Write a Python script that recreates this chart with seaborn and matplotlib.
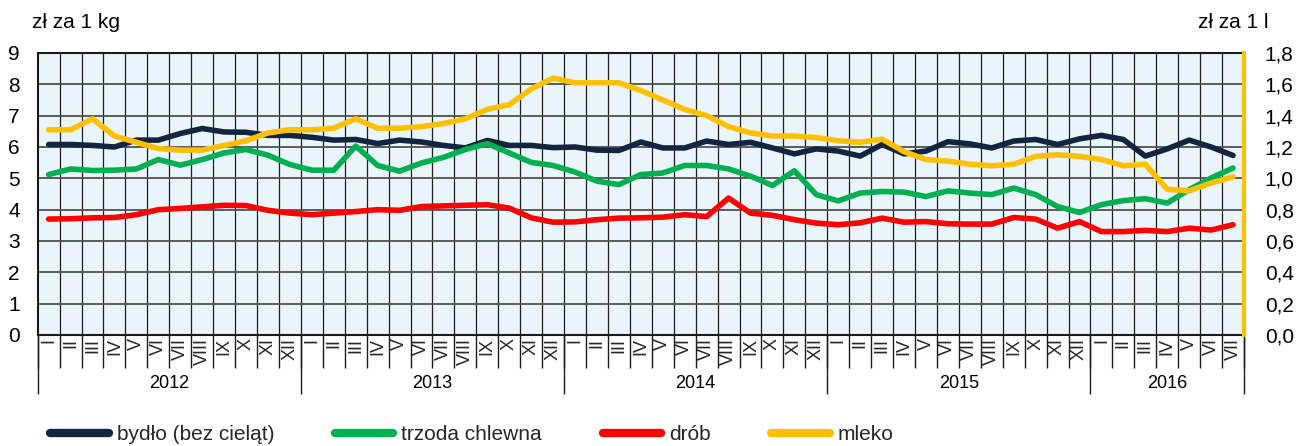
import numpy as np
import pandas as pd
import matplotlib
matplotlib.use("Agg")
import matplotlib.pyplot as plt
import seaborn as sns
from matplotlib.ticker import FuncFormatter

# ---------------- data ----------------
years = ["2012", "2013", "2014", "2015", "2016"]
months_per_year = [12, 12, 12, 12, 7]
roman = ["I", "II", "III", "IV", "V", "VI", "VII", "VIII", "IX", "X", "XI", "XII"]

# zł za 1 kg
bydlo = [6.08, 6.08, 6.05, 6.00, 6.22, 6.22, 6.43, 6.59, 6.48, 6.47, 6.37, 6.37, 6.31, 6.22,
         6.24, 6.11, 6.22, 6.16, 6.05, 5.97, 6.21, 6.05, 6.05, 5.98, 6.00, 5.90, 5.89, 6.16,
         5.97, 5.97, 6.19, 6.08, 6.15, 5.97, 5.78, 5.94, 5.87, 5.71, 6.08, 5.78, 5.87, 6.17,
         6.10, 5.97, 6.19, 6.24, 6.08, 6.26, 6.37, 6.24, 5.71, 5.94, 6.22, 6.00, 5.73]
trzoda = [5.12, 5.30, 5.25, 5.26, 5.30, 5.60, 5.42, 5.60, 5.81, 5.92, 5.74, 5.44, 5.26, 5.26,
          6.03, 5.41, 5.23, 5.49, 5.67, 5.92, 6.11, 5.81, 5.51, 5.41, 5.20, 4.91, 4.80, 5.12,
          5.17, 5.41, 5.41, 5.30, 5.07, 4.77, 5.24, 4.48, 4.28, 4.53, 4.58, 4.56, 4.42, 4.60,
          4.53, 4.48, 4.69, 4.48, 4.10, 3.91, 4.16, 4.29, 4.35, 4.21, 4.64, 5.01, 5.33]
drob = [3.70, 3.71, 3.74, 3.75, 3.84, 4.00, 4.04, 4.09, 4.14, 4.13, 3.98, 3.89, 3.84, 3.89,
        3.94, 4.00, 3.98, 4.10, 4.12, 4.14, 4.16, 4.05, 3.74, 3.60, 3.61, 3.68, 3.73, 3.74,
        3.76, 3.84, 3.78, 4.37, 3.89, 3.82, 3.68, 3.57, 3.52, 3.58, 3.73, 3.60, 3.62, 3.55,
        3.54, 3.54, 3.75, 3.70, 3.41, 3.62, 3.30, 3.30, 3.34, 3.30, 3.41, 3.35, 3.52]
# zł za 1 l
mleko = [1.31, 1.31, 1.38, 1.27, 1.23, 1.19, 1.18, 1.18, 1.21, 1.24, 1.29, 1.31, 1.31, 1.32,
         1.38, 1.32, 1.32, 1.33, 1.35, 1.38, 1.44, 1.47, 1.57, 1.64, 1.61, 1.61, 1.61, 1.56,
         1.50, 1.44, 1.40, 1.33, 1.29, 1.27, 1.27, 1.26, 1.24, 1.23, 1.25, 1.17, 1.12, 1.11,
         1.09, 1.08, 1.09, 1.14, 1.15, 1.14, 1.12, 1.08, 1.09, 0.93, 0.92, 0.97, 1.01]

series_names = ["bydło (bez cieląt)", "trzoda chlewna", "drób", "mleko"]
colors = ["#13243F", "#00B050", "#FF0000", "#FFC000"]

month_labels = [roman[i] for n in months_per_year for i in range(n)]
n = len(bydlo)
df = pd.DataFrame({"m": np.arange(n), "bydlo": bydlo, "trzoda": trzoda,
                   "drob": drob, "mleko": mleko})

# ---------------- style ----------------
sns.set_theme(style="white")
plt.rcParams["font.family"] = ["Liberation Sans", "DejaVu Sans"]

W, H = 1296, 446
fig = plt.figure(figsize=(W / 100, H / 100), dpi=100)
L, R, T, B = 37.7, 1244, 53, 335
ax = fig.add_axes([L / W, 1 - B / H, (R - L) / W, (B - T) / H])
ax.set_facecolor("#E9F4FB")
ax2 = ax.twinx()

lw = 4.0
sns.lineplot(data=df, x="m", y="bydlo", ax=ax, color=colors[0], linewidth=lw,
             label=series_names[0], solid_joinstyle="round")
sns.lineplot(data=df, x="m", y="trzoda", ax=ax, color=colors[1], linewidth=lw,
             label=series_names[1], solid_joinstyle="round")
sns.lineplot(data=df, x="m", y="drob", ax=ax, color=colors[2], linewidth=lw,
             label=series_names[2], solid_joinstyle="round")
sns.lineplot(data=df, x="m", y="mleko", ax=ax2, color=colors[3], linewidth=lw,
             label=series_names[3], solid_joinstyle="round")

h1, l1 = ax.get_legend_handles_labels()
h2, l2 = ax2.get_legend_handles_labels()
for a in (ax, ax2):
    if a.get_legend() is not None:
        a.get_legend().remove()

ax.set_xlim(-0.5, n - 0.5)
ax.set_ylim(0, 9)
ax2.set_ylim(0, 1.8)
ax.set_xlabel("")
ax.set_ylabel("")
ax2.set_ylabel("")

ax.set_yticks(range(10))
ax2.set_yticks(np.round(np.arange(0, 1.81, 0.2), 1))
ax2.yaxis.set_major_formatter(FuncFormatter(lambda v, p: f"{v:.1f}".replace(".", ",")))
ax.tick_params(axis="y", length=0, pad=13, labelsize=15, colors="black")
ax2.tick_params(axis="y", length=0, pad=15, labelsize=15, colors="black")

ax.set_xticks(np.arange(n))
ax.set_xticklabels(month_labels, rotation=90, fontsize=13, va="top")
ax.tick_params(axis="x", which="major", length=0, pad=2)
ax.set_xticks(np.arange(0.5, n - 1, 1), minor=True)
ax.tick_params(axis="x", which="minor", length=0)

ax.grid(False)
ax2.grid(False)
ax.grid(True, which="minor", axis="x", color="#1e1e1e", linewidth=0.9)
ax.grid(True, which="major", axis="y", color="#505050", linewidth=1.3)

for s in ("left", "top", "bottom"):
    ax.spines[s].set_visible(True)
    ax.spines[s].set_color("#1a1a1a")
    ax.spines[s].set_linewidth(1.5)
ax.spines["right"].set_visible(False)
for s in ("left", "top", "bottom"):
    ax2.spines[s].set_visible(False)
ax2.spines["right"].set_visible(True)
ax2.spines["right"].set_color(colors[3])
ax2.spines["right"].set_linewidth(3)

# category separators below the axis
trans = ax.get_xaxis_transform()
ph = B - T
bounds = np.arange(n + 1) - 0.5
ax.vlines(bounds, -33 / ph, 0, transform=trans, colors="#1a1a1a", linewidth=1.0, clip_on=False)
starts = np.cumsum([0] + months_per_year)
ax.vlines(starts - 0.5, -59 / ph, 0, transform=trans, colors="#1a1a1a", linewidth=1.0, clip_on=False)
for yr, s0, cnt in zip(years, starts[:-1], months_per_year):
    ax.text(s0 + cnt / 2 - 0.5, -48 / ph, yr, transform=trans, ha="center", va="center",
            fontsize=13, color="black")

# unit labels
fig.text(32 / W, 1 - 23 / H, "zł za 1 kg", ha="left", va="center", fontsize=15, color="black")
fig.text(1268 / W, 1 - 23 / H, "zł za 1 l", ha="right", va="center", fontsize=15, color="black")

leg = fig.legend(h1 + h2, l1 + l2, loc="center", bbox_to_anchor=(472 / W, 1 - 435 / H),
                 ncol=4, frameon=False, fontsize=15, handlelength=2.8, handletextpad=0.4,
                 columnspacing=2.9, borderpad=0)
for line in leg.get_lines():
    line.set_linewidth(6)
    line.set_solid_capstyle("round")

fig.savefig("out.png", dpi=100)
